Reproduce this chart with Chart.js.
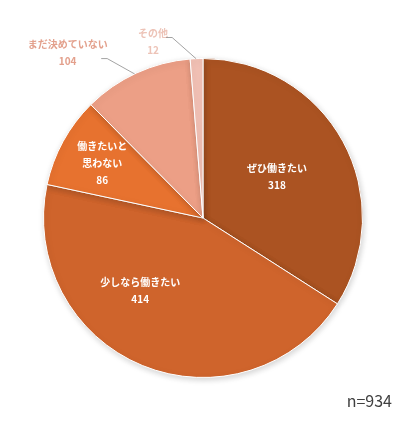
<!DOCTYPE html>
<html>
<head>
<meta charset="utf-8">
<script src="https://cdn.jsdelivr.net/npm/chart.js@4"></script>
<style>
    html, body { margin: 0; padding: 0; background: #fff; }
    #wrap { position: relative; width: 414px; height: 430px; }
    #note { position: absolute; right: 22px; top: 388px; font: 16px "Noto Sans CJK JP", sans-serif; color: #404040; }
</style>
</head>
<body>
<div id="wrap">
    <canvas id="myChart" width="414" height="430"></canvas>
    <div id="note">n=934</div>
</div>
<script>
// 回答データ
const categories = ['ぜひ働きたい', '少しなら働きたい', '働きたいと\n思わない', 'まだ決めていない', 'その他'];
const counts = [318, 414, 86, 104, 12];
const colors = ['#AB5322', '#CF642C', '#E7722F', '#EC9F86', '#F2C1B5'];

// ラベル位置 (角度: 上から時計回り, 半径比) と外側ラベルの設定
const labelPlace = [
    {angle: 61, r: 0.53, outside: false},
    {angle: 221, r: 0.6, outside: false},
    {angle: 298.6, r: 0.72, outside: false},
    {angle: 320.7, r: 1.34, outside: true, color: '#E3A08C', lineFrom: 334.6, lineTo: [329, 1.166]},
    {angle: 344.2, r: 1.15, outside: true, color: '#EDC3B7', lineFrom: 357.5, lineTo: [350.3, 1.148]}
];

function polar(cx, cy, deg, rad) {
    const a = deg * Math.PI / 180;
    return {x: cx + rad * Math.sin(a), y: cy - rad * Math.cos(a)};
}

const labelPlugin = {
    id: 'sliceLabels',
    beforeDatasetsDraw(chart) {
        const ctx = chart.ctx;
        ctx.save();
        ctx.shadowColor = 'rgba(0,0,0,0.18)';
        ctx.shadowBlur = 6;
        ctx.shadowOffsetX = 1;
        ctx.shadowOffsetY = 2;
    },
    afterDatasetsDraw(chart) {
        const ctx = chart.ctx;
        ctx.restore();
        const arcs = chart.getDatasetMeta(0).data;
        ctx.save();
        ctx.textAlign = 'center';
        ctx.textBaseline = 'middle';
        ctx.font = 'bold 10px "Noto Sans CJK JP", sans-serif';
        arcs.forEach(function (arc, i) {
            const p = labelPlace[i];
            const R = arc.outerRadius;
            const pos = polar(arc.x, arc.y, p.angle, R * p.r);
            const lines = categories[i].split('\n').concat([String(counts[i])]);
            ctx.fillStyle = p.outside ? p.color : '#FFFFFF';
            const lh = 17;
            const top = pos.y - (lines.length - 1) * lh / 2;
            lines.forEach(function (t, k) {
                ctx.fillText(t, pos.x, top + k * lh);
            });
            if (p.outside) {
                const a = polar(arc.x, arc.y, p.lineFrom, R);
                const b = polar(arc.x, arc.y, p.lineTo[0], R * p.lineTo[1]);
                ctx.strokeStyle = '#8C8C8C';
                ctx.lineWidth = 0.8;
                ctx.beginPath();
                ctx.moveTo(a.x, a.y);
                ctx.lineTo(b.x, b.y);
                ctx.lineTo(b.x - 6, b.y);
                ctx.stroke();
            }
        });
        ctx.restore();
    }
};

new Chart(document.getElementById('myChart'), {
    type: 'pie',
    data: {
        labels: categories,
        datasets: [{
            data: counts,
            backgroundColor: colors,
            borderColor: '#FFFFFF',
            borderWidth: 1
        }]
    },
    options: {
        responsive: false,
        animation: false,
        layout: {padding: {left: 43, right: 51, top: 58, bottom: 52}},
        plugins: {
            legend: {display: false},
            tooltip: {enabled: false}
        }
    },
    plugins: [labelPlugin]
});
</script>
</body>
</html>
